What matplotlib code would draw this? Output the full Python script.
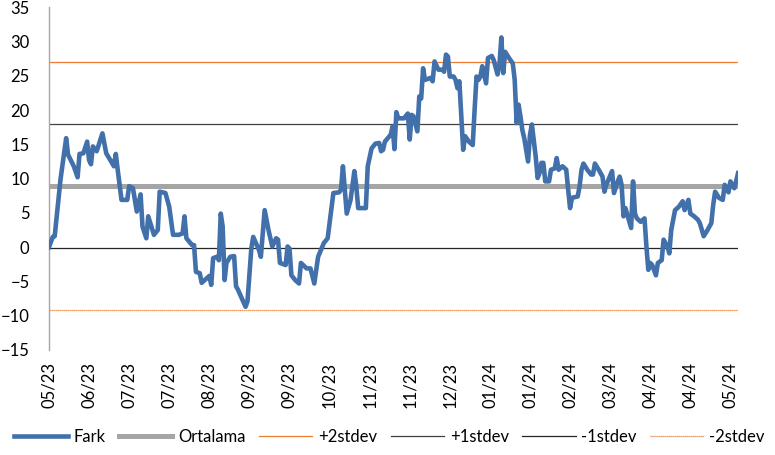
import datetime as dt
import matplotlib
matplotlib.use("Agg")
import matplotlib.pyplot as plt
import matplotlib.dates as mdates

plt.rcParams['font.family'] = ['Lato', 'DejaVu Sans']

# gün sayısı (2023-05-22'den itibaren) ve fark değerleri
start = dt.date(2023, 5, 22)
days = [0, 2, 3, 6, 9, 10, 13, 15, 16, 18, 20, 21, 22, 23, 25, 28, 30, 33, 34, 35,
        36, 38, 41, 42, 44, 46, 48, 49, 51, 52, 55, 57, 58, 61, 63, 65, 68, 70, 71, 72,
        75, 76, 77, 79, 80, 84, 85, 86, 88, 89, 90, 91, 92, 93, 95, 97, 98, 99, 103, 104,
        106, 107, 110, 111, 113, 115, 117, 119, 120, 121, 124, 125, 126, 127, 129, 131, 132, 135, 137, 139,
        141, 144, 146, 149, 152, 153, 154, 156, 158, 160, 161, 162, 166, 167, 169, 171, 173, 174, 175, 176,
        179, 180, 181, 182, 183, 186, 188, 189, 190, 191, 193, 194, 195, 196, 197, 200, 201, 202, 204, 206,
        207, 208, 209, 210, 212, 213, 214, 215, 217, 218, 220, 222, 223, 224, 225, 226, 227, 229, 230, 232,
        233, 235, 236, 237, 238, 239, 241, 243, 244, 245, 246, 247, 248, 249, 251, 252, 253, 255, 256, 257,
        258, 259, 260, 262, 263, 265, 266, 267, 269, 271, 272, 273, 274, 277, 278, 279, 280, 282, 284, 285,
        286, 288, 290, 291, 292, 295, 296, 298, 299, 300, 301, 302, 305, 306, 307, 308, 310, 312, 313, 314,
        315, 316, 318, 319, 321, 322, 324, 325, 326, 328, 330, 332, 333, 335, 336, 338, 340, 341, 343, 345,
        347, 348, 349, 351, 353, 354, 356, 357, 359, 360, 361]
fark = [0.0, 1.5, 1.6, 9.8, 15.9, 13.5, 11.8, 10.2, 13.6, 13.7, 15.4, 12.7, 12.1, 14.7, 14.0, 16.6, 13.7, 12.3, 11.8, 13.6,
        11.3, 6.9, 6.9, 8.9, 8.6, 5.2, 7.7, 3.0, 1.3, 4.5, 1.8, 2.5, 8.1, 7.9, 5.9, 1.8, 1.8, 2.0, 4.5, 1.3,
        0.3, 0.3, -3.6, -3.8, -5.2, -4.2, -5.5, -1.6, -1.4, -1.9, 4.9, 3.0, -4.8, -2.3, -1.4, -1.3, -5.7, -6.2, -8.7, -7.9,
        -0.2, 1.5, -0.4, -1.4, 5.4, 2.5, 0.1, 1.3, 1.1, -2.3, -2.6, 0.1, -0.2, -4.1, -4.8, -5.3, -2.3, -3.1, -3.1, -5.3,
        -1.4, 0.6, 1.3, 7.9, 8.0, 8.4, 11.8, 4.9, 6.9, 11.1, 8.9, 5.7, 5.7, 11.8, 14.4, 15.1, 15.2, 14.0, 14.2, 15.4,
        16.4, 17.6, 14.3, 19.7, 18.8, 18.8, 19.5, 15.7, 19.3, 19.1, 16.9, 22.0, 21.7, 26.1, 24.4, 24.7, 24.2, 27.1, 25.9, 25.9,
        25.6, 28.1, 27.8, 24.9, 24.9, 24.4, 23.2, 24.2, 14.2, 16.2, 15.4, 14.9, 20.1, 24.9, 24.4, 24.9, 26.4, 23.9, 27.6, 27.9,
        27.3, 25.2, 26.6, 30.6, 25.4, 28.5, 27.6, 26.8, 24.4, 18.1, 20.8, 19.1, 17.1, 15.9, 12.5, 16.4, 17.9, 13.2, 10.1, 10.8,
        12.3, 12.3, 9.6, 9.6, 11.3, 11.5, 13.0, 11.3, 11.8, 11.3, 8.4, 5.7, 7.2, 7.4, 8.9, 11.3, 12.2, 11.3, 10.6, 10.6,
        12.2, 11.3, 10.3, 8.1, 9.1, 11.1, 7.9, 9.6, 10.3, 9.1, 4.5, 5.7, 2.8, 9.6, 4.9, 4.2, 3.7, 4.2, 0.1, -3.3,
        -2.3, -2.6, -4.1, -2.3, -1.9, 1.1, 0.1, -0.9, 2.5, 5.4, 5.9, 6.7, 5.4, 6.9, 4.9, 4.5, 4.0, 3.5, 1.6, 2.5,
        3.5, 6.2, 8.1, 7.2, 6.9, 9.1, 8.0, 9.6, 8.6, 9.6, 10.8]

ortalama = 8.9
stdev = 9.05
y_ticks = list(range(-15, 40, 5))

dates = [start + dt.timedelta(days=d) for d in days]
tick_dates = [start + dt.timedelta(days=21 * k) for k in range(18)]

fig = plt.figure(figsize=(7.75, 4.55), dpi=100)
ax = fig.add_axes([0.0632, 0.2308, 0.8891, 0.7532])

ax.axhline(ortalama + 2 * stdev, color='#ED7D31', lw=0.9, label='+2stdev', zorder=2)
ax.axhline(ortalama + stdev, color='#404040', lw=0.9, label='+1stdev', zorder=2)
ax.axhline(ortalama - stdev, color='#262626', lw=0.9, label='-1stdev', zorder=2)
ax.axhline(ortalama - 2 * stdev, color='#ED7D31', lw=0.9, ls=(0, (1, 0.6)), label='-2stdev', zorder=2)
ax.axhline(ortalama, color='#A5A5A5', lw=3.6, label='Ortalama', zorder=3)
ax.plot(dates, fark, color='#4170AA', lw=3.3, label='Fark', zorder=4, solid_joinstyle='round')

ax.set_ylim(-15, 35)
ax.set_yticks(y_ticks)
ax.set_xlim(start, start + dt.timedelta(days=361))
ax.set_xticks(tick_dates)
ax.xaxis.set_major_formatter(mdates.DateFormatter('%m/%y'))
ax.tick_params(axis='x', rotation=90, length=0, pad=9, labelsize=12)
ax.tick_params(axis='y', length=0, pad=14, labelsize=12)
for s in ['top', 'right', 'bottom']:
    ax.spines[s].set_visible(False)
ax.spines['left'].set_color('#A6A6A6')
ax.spines['left'].set_linewidth(1.0)

h, l = ax.get_legend_handles_labels()
order = ['Fark', 'Ortalama', '+2stdev', '+1stdev', '-1stdev', '-2stdev']
hs = [h[l.index(o)] for o in order]
fig.legend(hs, order, loc='center left', bbox_to_anchor=(0.01, 0.04), ncol=6, frameon=False,
           fontsize=12, handlelength=3.2, handletextpad=0.35, columnspacing=0.8,
           borderpad=0.2, borderaxespad=0.2)

fig.savefig('out.png', dpi=100)
